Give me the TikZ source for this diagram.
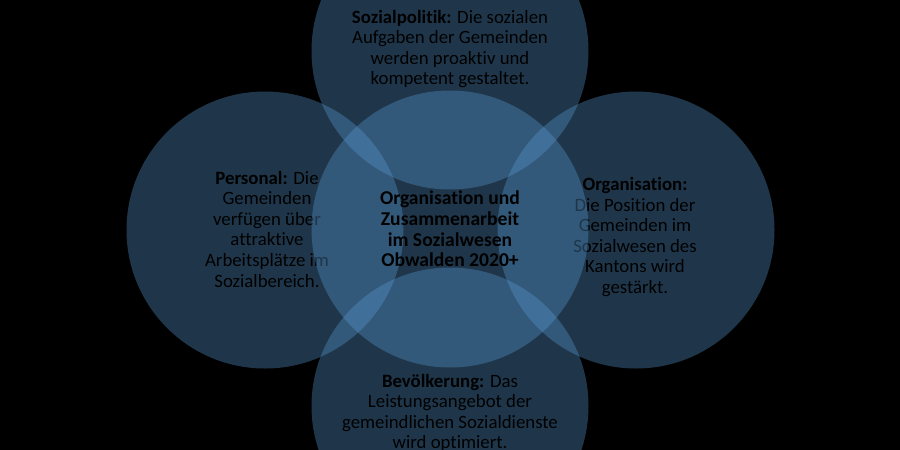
\documentclass[tikz,border=0pt]{standalone}
\usepackage{fontspec}
\setmainfont{Carlito}[Ligatures=NoCommon]

\definecolor{ringblue}{RGB}{91,155,213}

\begin{document}
\begin{tikzpicture}[
	x = 1pt, y = -1pt, % pixel grid of the slide
	R/.style={circle, fill=ringblue, fill opacity=.35, minimum size=277pt, inner sep=0pt},  % circles
	T/.style={align=center, text=black, inner sep=0pt, font=\fontsize{18.8}{20.6}\selectfont},  % circle texts
	M/.style={T, font=\fontsize{19.6}{20.7}\selectfont\bfseries},                              % centre text
	]

	% background and fixed frame
	\useasboundingbox (0,0) rectangle (900,450);
	\fill[black] (0,0) rectangle (900,450);

	% outer circles
	\node[R] (Top)    at (450,51)  {};
	\node[R] (Left)   at (265,230) {};
	\node[R] (Right)  at (636,230) {};
	\node[R] (Bottom) at (450,406) {};

	% their texts, below the centre circle
	\node[T] (TopText)    at (450,49)  {\textbf{Sozialpolitik:} Die sozialen\\Aufgaben der Gemeinden\\werden proaktiv und\\kompetent gestaltet.};
	\node[T] (LeftText)   at (267,229) {\textbf{Personal:} Die\\Gemeinden\\verfügen über\\attraktive\\Arbeitsplätze im\\Sozialbereich.};
	\node[T] (RightText)  at (635,237) {\textbf{Organisation:}\\Die Position der\\Gemeinden im\\Sozialwesen des\\Kantons wird\\gestärkt.};
	\node[T] (BottomText) at (450,413) {\textbf{Bevölkerung:} Das\\Leistungsangebot der\\gemeindlichen Sozialdienste\\wird optimiert.};

	% centre circle on top of the others
	\node[R] (Center) at (450,229) {};
	\node[M] (CenterText) at (Center) {Organisation und\\Zusammenarbeit\\im Sozialwesen\\Obwalden 2020+};

\end{tikzpicture}
\end{document}
